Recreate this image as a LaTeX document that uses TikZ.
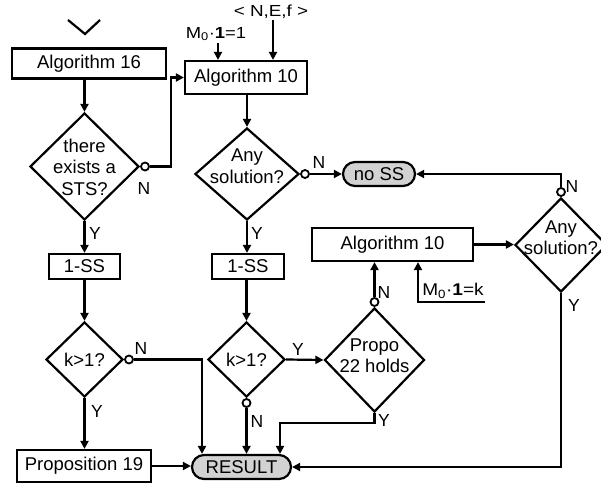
\documentclass[tikz,border=0pt]{standalone}
\usepackage{fontspec}
\setmainfont{Liberation Sans}
\usetikzlibrary{shapes.geometric,arrows.meta}
\begin{document}
\begin{tikzpicture}[x=1pt,y=-1pt,
  line width=2.2pt,
  every node/.style={font=\fontsize{18.5}{21.5}\selectfont, inner sep=0pt},
  arr/.style={-{Triangle[length=8pt,width=8pt]}},
  boxn/.style={draw, rectangle},
  dia/.style={draw, diamond, inner sep=0pt},
  term/.style={draw, rectangle, rounded corners=12pt, fill=gray!35},
  oc/.style={circle, draw, fill=white, inner sep=0pt, minimum size=8pt, line width=1.8pt},
  lab/.style={font=\fontsize{17.5}{17.5}\selectfont},
  inp/.style={font=\fontsize{16}{16}\selectfont}]
\useasboundingbox (0,0) rectangle (601,486);

% start chevron
\draw (68,20) -- (85,34) -- (100,20);

% boxes
\node[boxn, minimum width=154pt, minimum height=30pt] (a16) at (89,63.5) {Algorithm 16};
\node[boxn, minimum width=122pt, minimum height=33pt] (a10a) at (246,77.5) {Algorithm 10};
\node[boxn, minimum width=161pt, minimum height=33pt] (a10b) at (392.5,244.5) {Algorithm 10};
\node[boxn, minimum width=71pt, minimum height=25pt] (s1l) at (84.5,266.5) {1-SS};
\node[boxn, minimum width=72pt, minimum height=25pt] (s1m) at (248,266.5) {1-SS};
\node[boxn, minimum width=134pt, minimum height=32pt] (p19) at (84,466) {Proposition 19};
\node[term, minimum width=99pt, minimum height=24pt] (res) at (241.5,467) {RESULT};
\node[term, minimum width=72pt, minimum height=24pt] (noss) at (379,174) {no SS};

% diamonds
\node[dia, minimum width=109pt, minimum height=107pt] (d1) at (84.5,166.5) {};
\node[align=center] (t1) at (84.5,167) {there\\exists a\\STS?};
\node[dia, minimum width=104pt, minimum height=92pt] (d2) at (247,174) {};
\node[align=center] (t2) at (247,166) {Any\\solution?};
\node[dia, minimum width=77pt, minimum height=75pt] (kL) at (84.5,359.5) {};
\node (tkL) at (84.5,359.5) {k>1?};
\node[dia, minimum width=77pt, minimum height=75pt] (kM) at (246.5,359.5) {};
\node (tkM) at (246.5,359.5) {k>1?};
\node[dia, minimum width=100pt, minimum height=104pt] (pr) at (374.5,360) {};
\node[align=center] (tpr) at (374.5,355.5) {Propo\\22 holds};
\node[dia, minimum width=92pt, minimum height=94pt] (dR) at (561,245) {};
\node[align=center] (tdR) at (561,237.5) {Any\\solution?};

% small circles
\node[oc, anchor=west] (c1) at (d1.east) {};
\node[oc, anchor=west] (c2) at (d2.east) {};
\node[oc, anchor=west] (cL) at (kL.east) {};
\node[oc, anchor=north] (cM) at (kM.south) {};
\node[oc, anchor=south] (cP) at (pr.north) {};
\node[oc, anchor=south] (cR) at (dR.north) {};

% inputs
\node[inp] (m1) at (216,34) {\scalebox{1.15}[1]{M\textsubscript{0}·\textbf{1}=1}};
\node[inp] (nef) at (271,12) {\scalebox{1.18}[1]{< N,E,f >}};
\node[inp, font=\fontsize{17}{17}\selectfont] (mk) at (453,291) {\scalebox{1.12}[1]{M\textsubscript{0}·\textbf{1}=k}};
\coordinate (m1s) at (218,43);
\coordinate (nefs) at (273,20);
\coordinate (mke) at (485,302);
\coordinate (mkc) at (418,302);

% junctions
\coordinate (j1) at (171,166.5);
\coordinate (jL) at (202,359.5);
\coordinate (jP) at (280,423);

% connectors
\draw[arr] (a16.south -| d1.north) -- (d1.north);
\draw[arr] (c1.east) -- (j1) |- (a10a.west);
\draw[arr] (m1s) -- (m1s |- a10a.north);
\draw[arr] (nefs) -- (nefs |- a10a.north);
\draw[arr] (a10a.south -| d2.north) -- (d2.north);
\draw[arr] (c2.east) -- (noss.west);
\draw[arr] (d1.south) -- (d1.south |- s1l.north);
\draw[arr] (d2.south) -- (d2.south |- s1m.north);
\draw[arr] (s1l.south -| kL.north) -- (kL.north);
\draw[arr] (s1m.south -| kM.north) -- (kM.north);
\draw[arr] (cL.east) -- (jL) -- (jL |- res.north);
\draw[arr] (kL.south) -- (kL.south |- p19.north);
\draw[arr] (p19.east) -- (p19.east -| res.west);
\draw[arr] (kM.east) -- (pr.west);
\draw[arr] (cM.south) -- (cM.south |- res.north);
\draw[arr] (cP.north) -- (cP.north |- a10b.south);
\draw[arr] (pr.south) |- (jP) -- (jP |- res.north);
\draw[arr] (mke) -- (mkc) -- (mkc |- a10b.south);
\draw[arr] (a10b.east) -- (a10b.east -| dR.west);
\draw[arr] (cR.north) |- (noss.east);
\draw[arr] (dR.south) |- (res.east);

% labels
\node[lab] (l1) at (144,188) {N};
\node[lab] (l2) at (95,233) {Y};
\node[lab] (l3) at (319,162) {N};
\node[lab] (l4) at (257,233) {Y};
\node[lab] (l5) at (141,348) {N};
\node[lab] (l6) at (97,411) {Y};
\node[lab] (l7) at (257,421) {N};
\node[lab] (l8) at (298,349) {Y};
\node[lab] (l9) at (384,292) {N};
\node[lab] (l10) at (384,420) {Y};
\node[lab] (l11) at (572,186) {N};
\node[lab] (l12) at (574,305) {Y};
\end{tikzpicture}
\end{document}
